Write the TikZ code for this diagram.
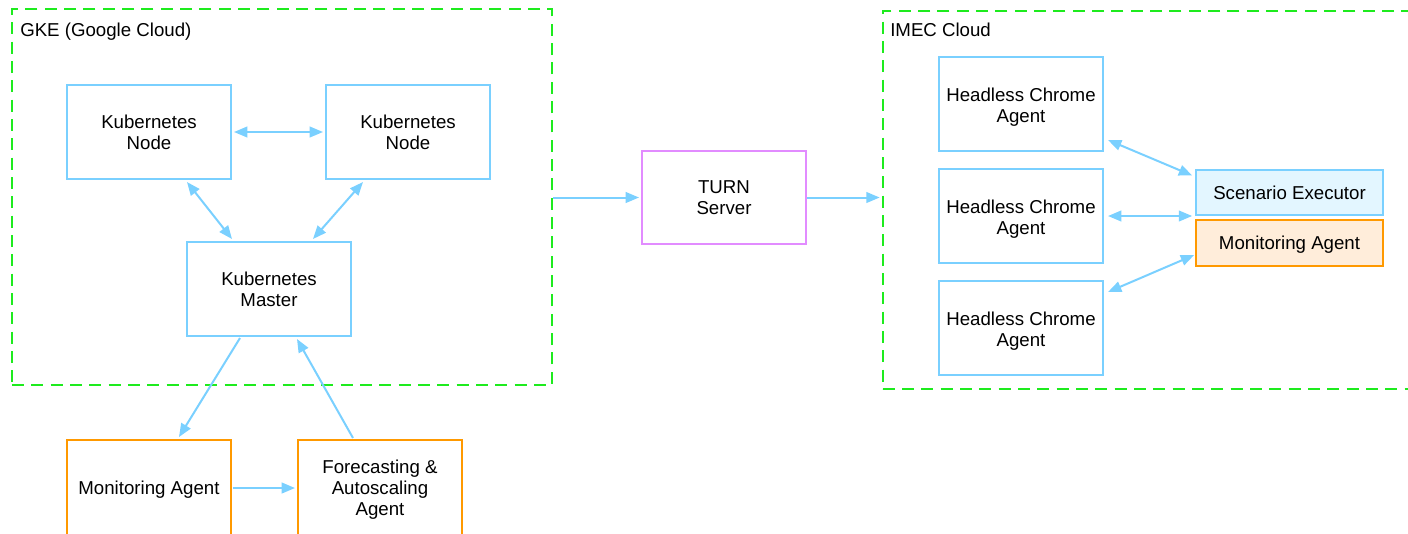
\documentclass[tikz,border=0pt]{standalone}
\usepackage{fontspec}
\setmainfont{Liberation Sans}
\usetikzlibrary{arrows.meta,calc}
\definecolor{lblue}{RGB}{122,208,255}
\definecolor{cgreen}{RGB}{30,235,30}
\definecolor{corange}{RGB}{255,153,0}
\definecolor{cviolet}{RGB}{226,140,255}
\definecolor{sefill}{RGB}{227,246,255}
\definecolor{mafill}{RGB}{255,237,218}
\newcommand\nodepth[1]{\raisebox{0pt}[\height][0pt]{#1}}
\newcommand\hcfirst{\rule{0pt}{12.4pt}}
\tikzset{
  every node/.style={font=\fontsize{14}{15.75}\selectfont},
  bluebox/.style={draw=lblue,line width=1.5pt,minimum width=123pt,minimum height=70.5pt,align=center,inner sep=0pt},
  orangebox/.style={draw=corange,line width=1.5pt,minimum width=123pt,minimum height=72pt,align=center,inner sep=0pt},
  turnbox/.style={draw=cviolet,line width=1.5pt,minimum width=123pt,minimum height=70pt,align=center,inner sep=0pt},
  sebox/.style={draw=lblue,fill=sefill,line width=1.5pt,minimum width=140pt,minimum height=34pt,inner sep=0pt},
  mabox/.style={draw=corange,fill=mafill,line width=1.5pt,minimum width=140pt,minimum height=34pt,inner sep=0pt},
  cloudbox/.style={draw=cgreen,line width=1.5pt,dash pattern=on 9pt off 5.5pt,inner sep=0pt},
  conn/.style={draw=lblue,line width=1.5pt,-{Triangle[length=10pt,width=8pt]}},
  biconn/.style={draw=lblue,line width=1.5pt,{Triangle[length=10pt,width=8pt]}-{Triangle[length=10pt,width=8pt]}},
  lbl/.style={anchor=base west,inner sep=0pt}
}
\begin{document}
\begin{tikzpicture}[x=0.75pt,y=-0.75pt]
\useasboundingbox (0,0) rectangle (1408,533);
% containers
\node[cloudbox,minimum width=405pt,minimum height=282pt] (gke) at (282,197) {};
\node[cloudbox,minimum width=398pt,minimum height=283.5pt] (imec) at (1148,200) {};
\node[lbl] (gkelbl) at (20,36) {GKE (Google Cloud)};
\node[lbl] (imeclbl) at (890,36) {IMEC Cloud};
% GKE nodes
\node[bluebox] (n1) at (149,132) {Kubernetes\\Node};
\node[bluebox] (n2) at (408,132) {Kubernetes\\Node};
\node[bluebox] (km) at (269,289) {Kubernetes\\Master};
\node[orangebox] (mon) at (149,488) {\nodepth{Monitoring Agent}};
\node[orangebox] (fore) at (380,488) {Forecasting \&\\Autoscaling\\\nodepth{Agent}};
% TURN
\node[turnbox] (turn) at (724,197.5) {TURN\\Server};
% IMEC nodes
\node[bluebox] (hc1) at (1021,104) {\hcfirst Headless Chrome\\\nodepth{Agent}};
\node[bluebox] (hc2) at (1021,216) {\hcfirst Headless Chrome\\\nodepth{Agent}};
\node[bluebox] (hc3) at (1021,328) {\hcfirst Headless Chrome\\\nodepth{Agent}};
\node[sebox] (se) at (1289.5,192.5) {Scenario Executor};
\node[mabox] (ma) at (1289.5,243) {\nodepth{Monitoring Agent}};
% connectors
\draw[biconn] ($(n1.east)+(2,0)$) -- ($(n2.west)+(-2,0)$);
\draw[biconn] ($(n1.south)+(38,2)$) -- ($(km.north)+(-37,-2)$);
\draw[biconn] ($(n2.south)+(-45,2)$) -- ($(km.north)+(44,-2)$);
\draw[conn] ($(km.south)+(-29,1)$) -- ($(mon.north)+(30,-2)$);
\draw[conn] ($(fore.north)+(-27,-1)$) -- ($(km.south)+(28,2)$);
\draw[conn] ($(mon.east)+(1,0)$) -- ($(fore.west)+(-2,0)$);
\draw[conn] (gke.east |- turn.west) -- ($(turn.west)+(-2,0)$);
\draw[conn] (turn.east) -- ($(imec.west |- turn.east)+(-2,0)$);
\draw[biconn] ($(hc1.east)+(4,36)$) -- ($(se.west)+(-3,-17)$);
\draw[biconn] ($(hc2.east)+(4,0)$) -- ($(se.west |- hc2.east)+(-3,0)$);
\draw[biconn] ($(hc3.east)+(4,-36)$) -- ($(ma.west)+(-1,12)$);
\end{tikzpicture}
\end{document}
